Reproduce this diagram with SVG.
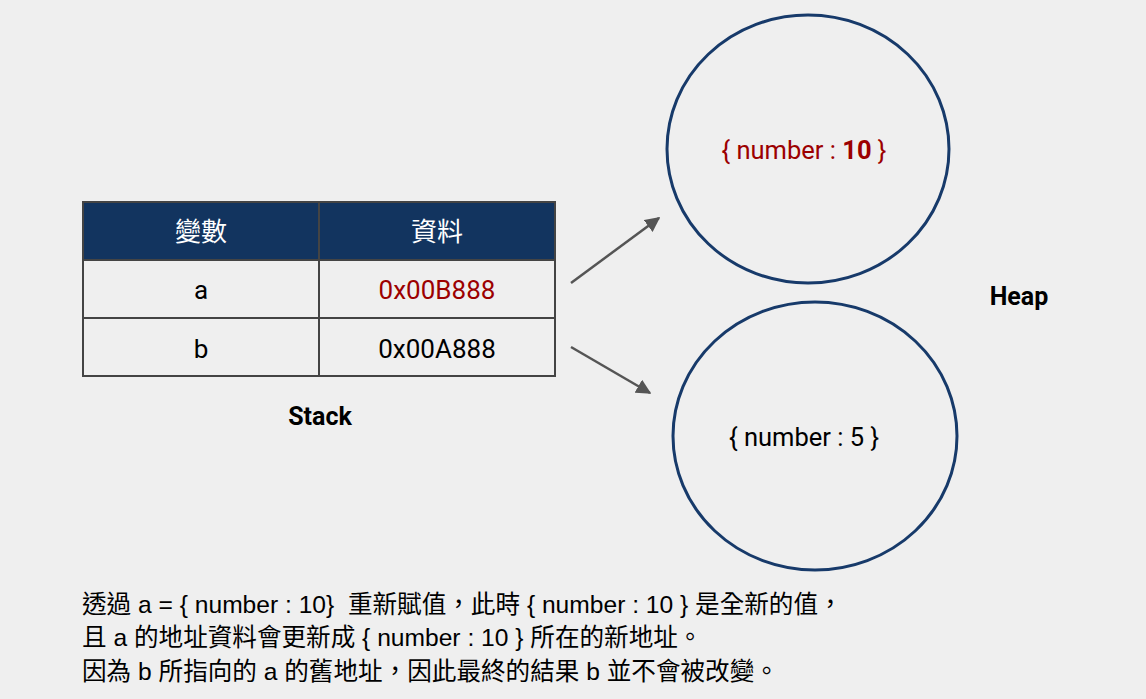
<svg xmlns="http://www.w3.org/2000/svg" width="1146" height="699" viewBox="0 0 1146 699">
<defs>
<style>
text{font-family:Roboto,"Noto Sans CJK TC",sans-serif;}
.cell{font-size:26px;text-anchor:middle;fill:#000;}
.hdr{font-size:26px;text-anchor:middle;fill:#fff;}
.grid{stroke:#444;stroke-width:2;fill:none;}
.heap{fill:none;stroke:#173a6a;stroke-width:3;}
.conn{stroke:#555;stroke-width:2.5;fill:none;marker-end:url(#ah);}
.lbl{font-size:25px;font-weight:bold;text-anchor:middle;fill:#000;}
.note{font-family:"Liberation Sans","Noto Sans CJK TC",sans-serif;font-size:24.6px;fill:#000;white-space:pre;}
</style>
<marker id="ah" viewBox="0 0 10 10" refX="9" refY="5" markerWidth="6" markerHeight="6" markerUnits="strokeWidth" orient="auto">
<path d="M0,0 L10,5 L0,10 z" fill="#555"/>
</marker>
</defs>
<rect width="1146" height="699" fill="#efefef"/>
<g id="stack-table">
<rect x="83" y="202" width="472" height="58" fill="#12345f"/>
<rect x="83" y="260" width="472" height="116" fill="#efefef"/>
<rect class="grid" x="83" y="202" width="472" height="174"/>
<line class="grid" x1="83" y1="260" x2="555" y2="260"/>
<line class="grid" x1="83" y1="318" x2="555" y2="318"/>
<line class="grid" x1="319" y1="202" x2="319" y2="376"/>
<text class="hdr" x="201" y="241">變數</text>
<text class="hdr" x="437" y="241">資料</text>
<text class="cell" x="201" y="299">a</text>
<text class="cell" x="437" y="299" style="fill:#9c0000">0x00B888</text>
<text class="cell" x="201" y="358">b</text>
<text class="cell" x="437" y="358">0x00A888</text>
</g>
<g id="stack-label"><text class="lbl" x="320" y="425">Stack</text></g>
<g id="heap-obj-10">
<ellipse class="heap" cx="808" cy="149" rx="141" ry="134"/>
<text x="804" y="159" font-size="25.5" text-anchor="middle" fill="#9c0000">{ number : <tspan font-weight="bold">10</tspan> }</text>
</g>
<g id="heap-obj-5">
<ellipse class="heap" cx="815" cy="436" rx="142" ry="134"/>
<text x="804" y="446" font-size="25.5" text-anchor="middle" fill="#000">{ number : 5 }</text>
</g>
<g id="heap-label"><text class="lbl" x="1019" y="305">Heap</text></g>
<g id="connectors">
<line class="conn" x1="571" y1="283" x2="659" y2="218"/>
<line class="conn" x1="571" y1="347" x2="650" y2="393"/>
</g>
<g id="note">
<text class="note" x="82" y="613" xml:space="preserve">透過 a = { number : 10}  重新賦值，此時 { number : 10 } 是全新的值，</text>
<text class="note" x="82" y="646">且 a 的地址資料會更新成 { number : 10 } 所在的新地址。</text>
<text class="note" x="82" y="680">因為 b 所指向的 a 的舊地址，因此最終的結果 b 並不會被改變。</text>
</g>
</svg>
